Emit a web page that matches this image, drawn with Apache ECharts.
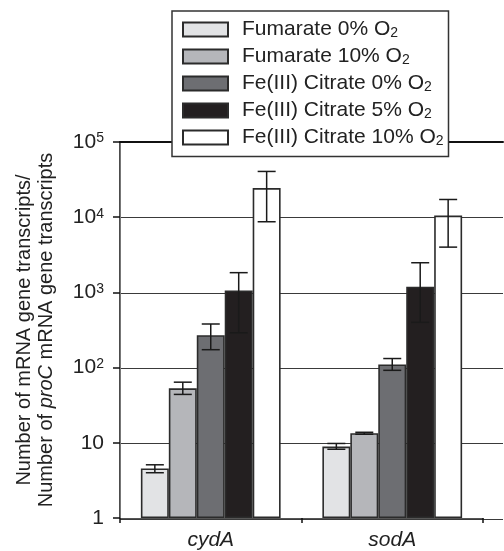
<!DOCTYPE html>
<html>
<head>
<meta charset="utf-8">
<script src="https://cdn.jsdelivr.net/npm/echarts@6/dist/echarts.min.js"></script>
<style>
html,body{margin:0;padding:0;background:#fff;}
#chart{width:504px;height:551px;}
</style>
</head>
<body>
<div id="chart"></div>
<script>
// ---- data ----
const categories = ['cydA', 'sodA'];
const seriesNames = [
  'Fumarate 0% O2',
  'Fumarate 10% O2',
  'Fe(III) Citrate 0% O2',
  'Fe(III) Citrate 5% O2',
  'Fe(III) Citrate 10% O2'
];
const fumarate0 = [4.55, 8.9];
const fumarate10 = [53, 13.4];
const citrate0 = [270, 110];
const citrate5 = [1060, 1190];
const citrate10 = [24400, 10500];

const fumarate0Hi = [5.1, 9.8];
const fumarate10Hi = [64, 13.8];
const citrate0Hi = [380, 132];
const citrate5Hi = [1830, 2480];
const citrate10Hi = [40600, 17200];

const fumarate0Lo = [4.0, 8.2];
const fumarate10Lo = [44, 13.0];
const citrate0Lo = [173, 92];
const citrate5Lo = [290, 400];
const citrate10Lo = [8700, 4000];

const yTickLabels = {1: '1', 10: '10', 100: '10{sup|2}', 1000: '10{sup|3}', 10000: '10{sup|4}', 100000: '10{sup|5}'};

// ---- styles ----
const FONT = '"Liberation Sans", Arial, Helvetica, sans-serif';
const colors = ['#e2e3e5', '#b5b6ba', '#6d6e72', '#231f20', '#ffffff'];
const values = [fumarate0, fumarate10, citrate0, citrate5, citrate10];
const his = [fumarate0Hi, fumarate10Hi, citrate0Hi, citrate5Hi, citrate10Hi];
const los = [fumarate0Lo, fumarate10Lo, citrate0Lo, citrate5Lo, citrate10Lo];
const CAT_GAP = 0.23;

const chart = echarts.init(document.getElementById('chart'), null, {renderer: 'canvas'});

const series = [];
values.forEach((vals, k) => {
  series.push({
    name: seriesNames[k],
    type: 'bar',
    xAxisIndex: 0, yAxisIndex: 0,
    data: vals,
    barGap: '0%',
    barCategoryGap: (CAT_GAP * 100) + '%',
    itemStyle: {color: colors[k], borderColor: '#2b2b2b', borderWidth: 1.6},
    emphasis: {disabled: true},
    z: 2
  });
});
values.forEach((vals, k) => {
  series.push({
    type: 'custom',
    xAxisIndex: 0, yAxisIndex: 0,
    z: 5,
    silent: true,
    data: categories.map((c, i) => [i, los[k][i], his[k][i]]),
    renderItem: function (params, api) {
      const cat = api.value(0);
      const lo = api.value(1), hi = api.value(2);
      const catW = api.coord([1, 10])[0] - api.coord([0, 10])[0];
      const bw = catW * (1 - CAT_GAP) / 5;
      const x = api.coord([cat, 10])[0] + (k - 2) * bw;
      const yHi = api.coord([cat, hi])[1];
      const yLo = api.coord([cat, lo])[1];
      const hw = 9;
      const st = {stroke: '#1a1a1a', lineWidth: 1.5};
      return {
        type: 'group',
        children: [
          {type: 'line', shape: {x1: x, y1: yHi, x2: x, y2: yLo}, style: st},
          {type: 'line', shape: {x1: x - hw, y1: yHi, x2: x + hw, y2: yHi}, style: st},
          {type: 'line', shape: {x1: x - hw, y1: yLo, x2: x + hw, y2: yLo}, style: st}
        ]
      };
    }
  });
});

const option = {
  animation: false,
  backgroundColor: '#ffffff',
  textStyle: {fontFamily: FONT},
  grid: [
    {left: 120, top: 142, width: 363, bottom: 32, containLabel: false},
    {left: 120, top: 142, right: 1, bottom: 32, containLabel: false}
  ],
  legend: {
    data: seriesNames,
    orient: 'vertical',
    left: 172,
    top: 11,
    padding: [8, 5, 8, 10],
    icon: 'rect',
    itemWidth: 45,
    itemHeight: 14,
    itemGap: 5.5,
    itemStyle: {borderColor: '#2b2b2b', borderWidth: 2},
    backgroundColor: '#ffffff',
    borderColor: '#333333',
    borderWidth: 1.5,
    selectedMode: false,
    z: 10,
    formatter: function (name) {
      return '{p|}{n|' + name.slice(0, -1) + '}{s|2}';
    },
    textStyle: {
      color: '#222',
      fontFamily: FONT,
      fontSize: 21,
      rich: {
        p: {width: 9, fontSize: 21, lineHeight: 22},
        n: {fontSize: 21, lineHeight: 22, fontFamily: FONT, color: '#222'},
        s: {fontSize: 14, lineHeight: 10, verticalAlign: 'bottom', fontFamily: FONT, color: '#222'}
      }
    }
  },
  xAxis: [
    {
      gridIndex: 0,
      type: 'category',
      data: categories,
      boundaryGap: true,
      axisLine: {show: true, lineStyle: {color: '#555', width: 1}},
      axisTick: {show: true, length: 5, lineStyle: {color: '#111', width: 1.5}},
      axisLabel: {fontSize: 21, fontStyle: 'italic', color: '#222', margin: 12, fontFamily: FONT},
      splitLine: {show: false}
    },
    {
      gridIndex: 1,
      type: 'value',
      position: 'top',
      min: 0, max: 1,
      axisLine: {show: true, onZero: false, lineStyle: {color: '#111', width: 2}},
      axisTick: {show: false},
      axisLabel: {show: false},
      splitLine: {show: false}
    }
  ],
  yAxis: [
    {
      gridIndex: 0,
      type: 'log',
      logBase: 10,
      min: 1,
      max: 100000,
      axisLine: {show: true, lineStyle: {color: '#111', width: 1.5}},
      axisTick: {show: true, length: 7, inside: false, lineStyle: {color: '#111', width: 1.5}},
      splitLine: {show: false},
      minorTick: {show: false},
      axisLabel: {
        margin: 16,
        color: '#222',
        fontFamily: FONT,
        fontSize: 21,
        formatter: function (v) {
          const key = Math.round(v);
          return yTickLabels[key] !== undefined ? yTickLabels[key] : '';
        },
        rich: {
          sup: {fontSize: 14, lineHeight: 10, verticalAlign: 'top', fontFamily: FONT, color: '#222'}
        }
      },
      name: '{n|Number of mRNA gene transcripts/}\n{n|Number of }{i|proC}{n| mRNA gene transcripts}',
      nameLocation: 'middle',
      nameRotate: 90,
      nameGap: 63,
      nameTextStyle: {
        color: '#222',
        fontFamily: FONT,
        fontSize: 20,
        lineHeight: 22,
        rich: {
          n: {fontSize: 20, lineHeight: 22, fontFamily: FONT, color: '#222'},
          i: {fontSize: 20, lineHeight: 22, fontStyle: 'italic', fontFamily: FONT, color: '#222'}
        }
      }
    },
    {
      gridIndex: 1,
      type: 'log',
      logBase: 10,
      min: 1,
      max: 100000,
      position: 'right',
      axisLine: {show: true, lineStyle: {color: '#777', width: 1}},
      axisTick: {show: false},
      axisLabel: {show: false},
      minorTick: {show: false},
      splitLine: {show: true, lineStyle: {color: '#3a3a3a', width: 1}}
    }
  ],
  series: series
};

chart.setOption(option);
</script>
</body>
</html>
